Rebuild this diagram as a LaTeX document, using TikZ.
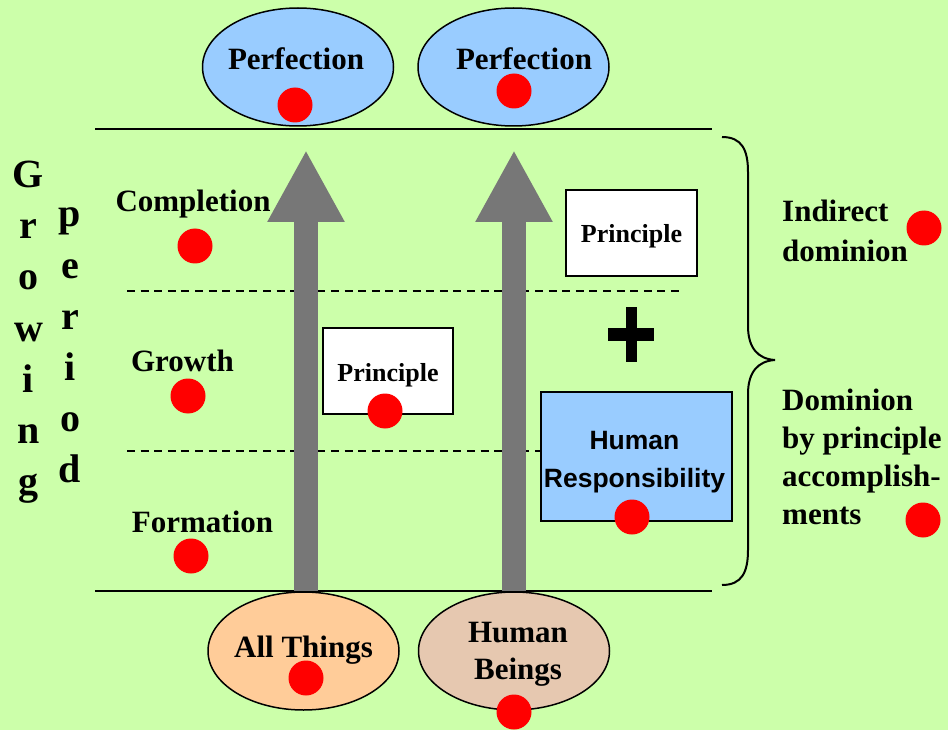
\documentclass[tikz,border=0pt]{standalone}
\usepackage{fontspec}
\setmainfont{Liberation Serif}
\newfontfamily\arialf{Liberation Sans}
\usetikzlibrary{arrows.meta,shapes.geometric}
\definecolor{bg}{RGB}{204,255,170}
\definecolor{blueF}{RGB}{153,204,255}
\definecolor{orangeF}{RGB}{255,204,153}
\definecolor{tanF}{RGB}{230,200,176}
\definecolor{arrowG}{RGB}{119,119,119}
\definecolor{dotR}{RGB}{255,0,0}
\begin{document}
\begin{tikzpicture}[x=1pt,y=-1pt,
  lbl/.style={inner sep=0pt, font=\bfseries\fontsize{31}{38}\selectfont},
  smalllbl/.style={inner sep=0pt, font=\bfseries\fontsize{26}{30}\selectfont},
  bigletter/.style={inner sep=0pt, anchor=base, font=\bfseries\fontsize{40}{44}\selectfont},
  ell/.style={ellipse, draw=black, line width=1.5pt, minimum width=191pt, minimum height=118pt, inner sep=0pt},
  rdot/.style={circle, fill=dotR, minimum size=35pt, inner sep=0pt},
  box/.style={draw=black, line width=2pt, inner sep=0pt},
  rule/.style={draw=black, line width=2pt},
  dashrule/.style={draw=black, line width=1.5pt, dash pattern=on 8pt off 5.6pt},
  bigarrow/.style={draw=arrowG, line width=23.5pt, -{Triangle[length=72pt,width=72pt]}}
]
\useasboundingbox (0,0) rectangle (948,730);
\fill[bg] (0,0) rectangle (948,730);

% horizontal rules
\coordinate (topL) at (95,129);
\coordinate (topR) at (712,129);
\coordinate (botL) at (95,591);
\coordinate (botR) at (712,591);
\path[rule] (topL) -- (topR);
\path[rule] (botL) -- (botR);

% dashed rules
\coordinate (d1L) at (127,291);
\coordinate (d1R) at (680,291);
\coordinate (d2L) at (127,451);
\coordinate (d2R) at (541,451);
\path[dashrule] (d1L) -- (d1R);
\path[dashrule] (d2L) -- (d2R);

% big arrows
\coordinate (a1b) at (306,591);
\coordinate (a1t) at (306,150);
\coordinate (a2b) at (514,591);
\coordinate (a2t) at (514,150);
\path[bigarrow] (a1b) -- (a1t);
\path[bigarrow] (a2b) -- (a2t);

% top ellipses
\node[ell, fill=blueF] (perf1) at (298,67) {};
\node[ell, fill=blueF] (perf2) at (513.5,67) {};
\node[lbl, anchor=base] (perf1t) at (296,70) {Perfection};
\node[lbl, anchor=base] (perf2t) at (524,70) {Perfection};
\node[rdot] (perf1d) at (295,105) {};
\node[rdot] (perf2d) at (514,91) {};

% bottom ellipses
\node[ell, fill=orangeF] (allth) at (303.5,651) {};
\node[ell, fill=tanF] (human) at (514,651) {};
\node[lbl, anchor=base] (allthT) at (303.5,657) {All Things};
\node[lbl, anchor=base] (humanT) at (518,642)
  {\begin{tabular}[t]{@{}c@{}}Human\\[-1pt]Beings\end{tabular}};
\node[rdot] (allthD) at (306,678) {};
\node[rdot] (humanD) at (514,712) {};

% Growing period
\foreach \l/\yy [count=\i] in {G/188,r/239,o/290,w/341,i/392,n/443,g/494}
  \node[bigletter] (gr\i) at (28.5,\yy) {\l};
\foreach \l/\yy [count=\i] in {p/227,e/278,r/329,i/380,o/431,d/482}
  \node[bigletter] (pe\i) at (70,\yy) {\l};

% stage labels
\node[lbl, anchor=base] (compl) at (193,212) {Completion};
\node[lbl, anchor=base] (growth) at (182.5,371) {Growth};
\node[lbl, anchor=base] (form) at (202.5,532) {Formation};
\node[rdot] (compld) at (195,246) {};
\node[rdot] (growthd) at (188,396) {};
\node[rdot] (formd) at (191,556) {};

% principle boxes
\node[box, fill=white, minimum width=130pt, minimum height=86pt] (prin1) at (388,371) {};
\node[smalllbl, anchor=base] (prin1t) at (388,381) {Principle};
\node[rdot] (prin1d) at (385,411) {};
\node[box, fill=white, minimum width=131pt, minimum height=86pt] (prin2) at (631.5,233) {};
\node[smalllbl, anchor=base] (prin2t) at (631.5,243) {Principle};

% plus sign
\fill[black] (626,307) rectangle (637,362);
\fill[black] (608,328) rectangle (654,341);

% human responsibility
\node[box, fill=blueF, minimum width=191pt, minimum height=129pt] (hr) at (636.5,456.5) {};
\node[inner sep=0pt, anchor=base, font=\arialf\bfseries\fontsize{26.5}{38}\selectfont] (hrt) at (634.5,449)
  {\begin{tabular}[t]{@{}c@{}}Human\\Responsibility\end{tabular}};
\node[rdot] (hrd) at (632,517) {};

% brace
\coordinate (brT) at (722,137);
\coordinate (brM) at (775,360);
\coordinate (brB) at (722,585);
\draw[line width=2pt] (brT) .. controls (742,137) and (748,150) .. (748,172)
  -- (748,326) .. controls (748,348) and (758,359) .. (brM)
  .. controls (758,361) and (748,372) .. (748,394)
  -- (748,550) .. controls (748,572) and (742,585) .. (brB);

% right labels
\node[lbl, anchor=base west] (indir) at (782,222)
  {\begin{tabular}[t]{@{}l@{}}Indirect\\[2pt]dominion\end{tabular}};
\node[rdot] (indird) at (924,228) {};
\node[lbl, anchor=base west] (domin) at (782,410)
  {\begin{tabular}[t]{@{}l@{}}Dominion\\by principle\\accomplish-\\ments\end{tabular}};
\node[rdot] (domind) at (923,520) {};
\end{tikzpicture}
\end{document}
